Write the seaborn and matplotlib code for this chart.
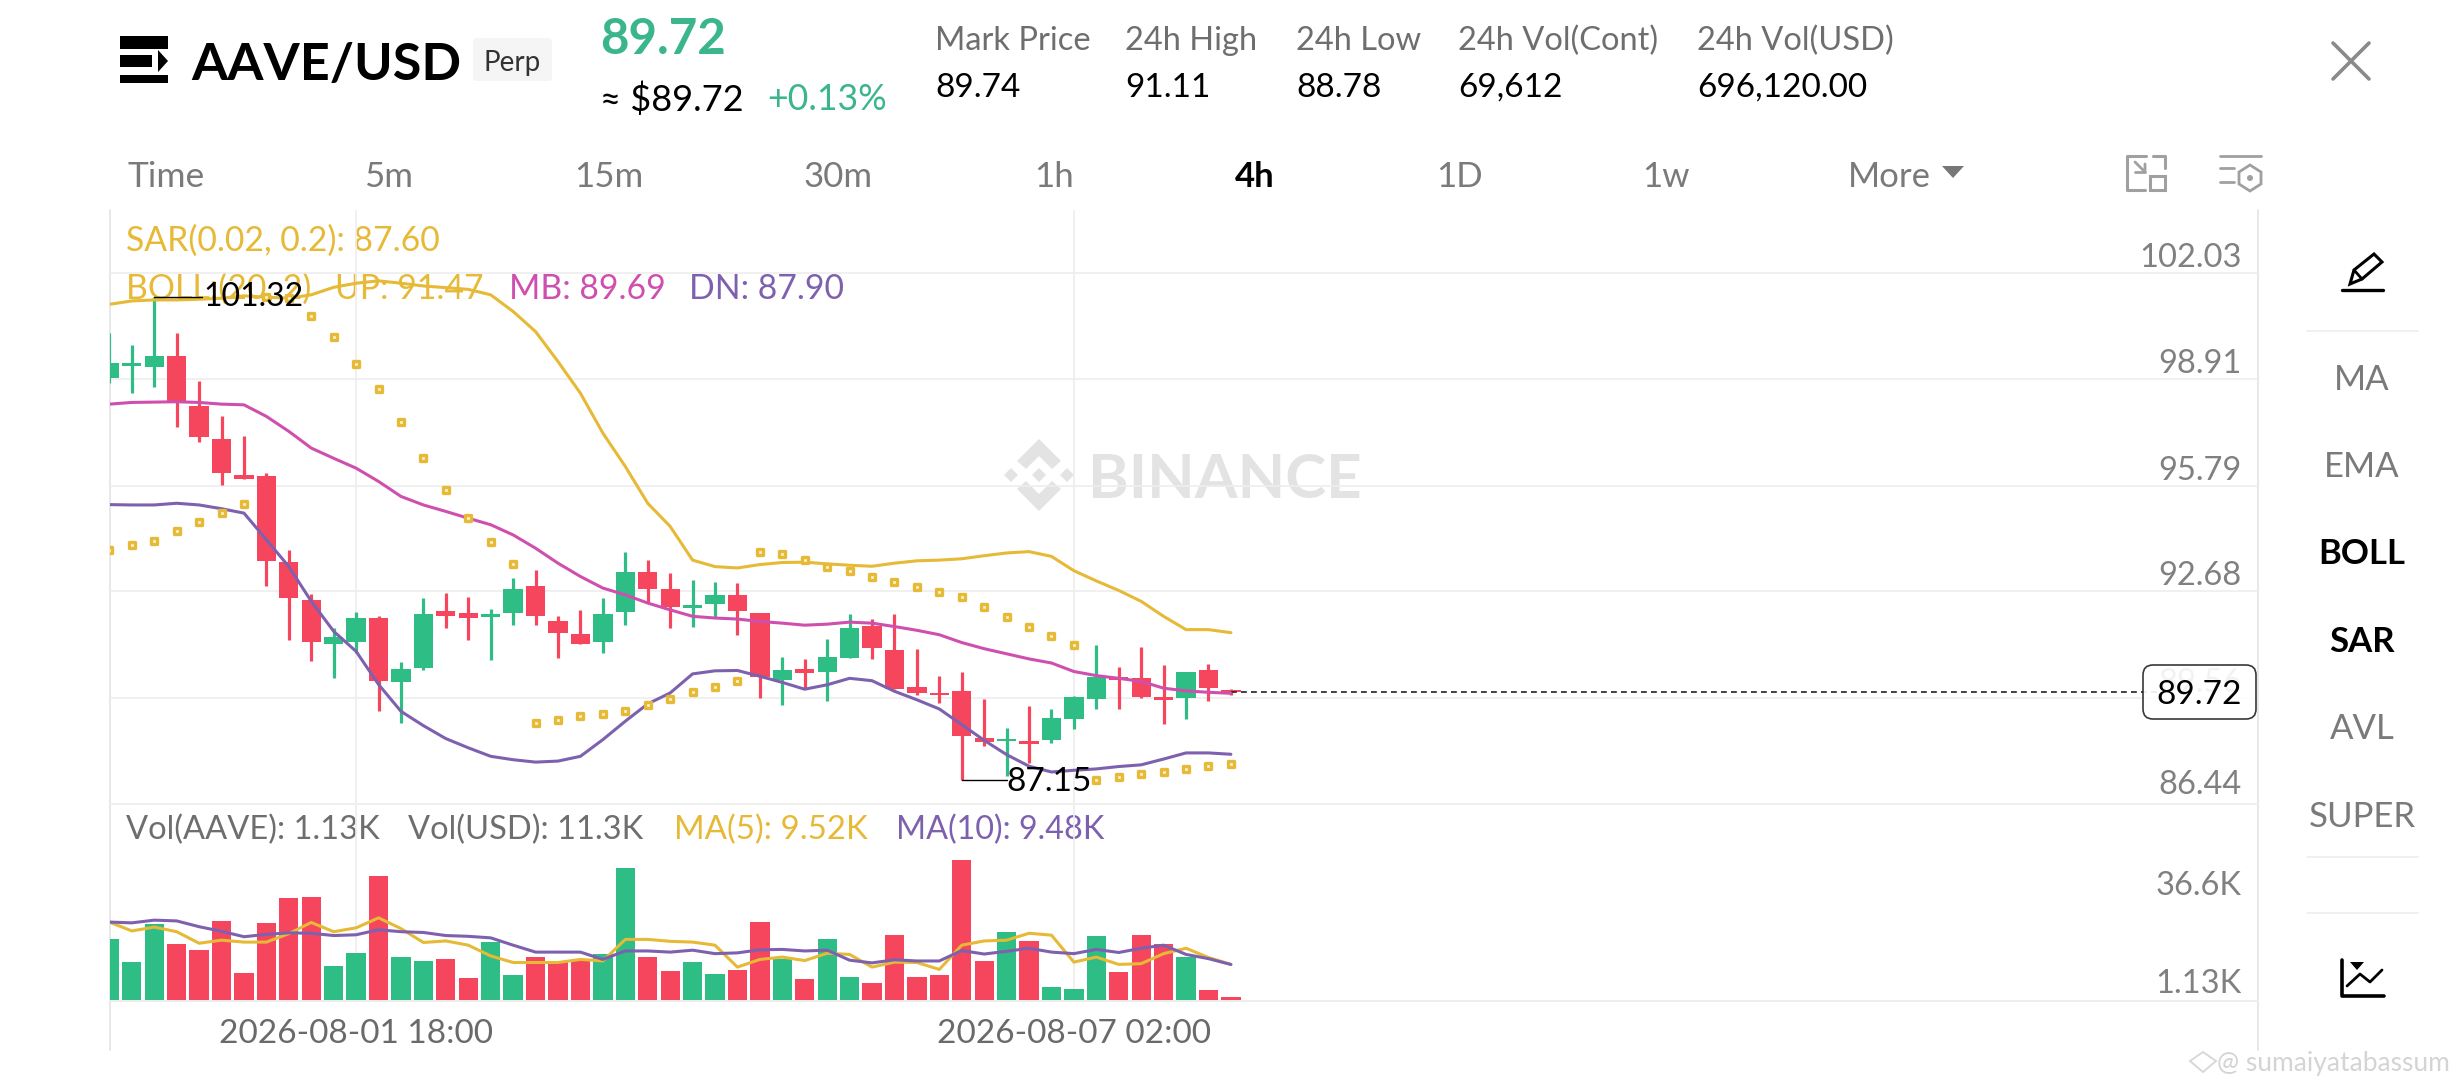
import numpy as np
import pandas as pd
import seaborn as sns
import matplotlib
matplotlib.use("Agg")
import matplotlib.pyplot as plt
from matplotlib.patches import FancyBboxPatch, Polygon, Rectangle, Circle
from matplotlib.transforms import ScaledTranslation

# ---------- data ----------
opens = [98.96,99.31,99.26,99.60,98.14,97.15,96.10,96.08,93.54,92.42,91.14,91.21,91.90,90.01,90.43,92.10,92.05,91.92,92.05,92.83,91.80,91.42,91.21,92.09,93.25,
         92.76,92.19,92.31,92.58,92.04,90.08,90.40,90.33,90.74,91.67,90.97,89.87,89.71,89.75,88.39,88.28,88.29,88.33,88.93,89.52,90.18,90.15,89.57,89.54,90.36,89.75]
closes = [99.38,99.38,99.60,98.23,97.21,96.15,95.98,93.56,92.49,91.21,91.33,91.90,90.04,90.39,92.03,91.97,91.90,92.02,92.75,91.95,91.46,91.15,92.02,93.25,92.76,
          92.21,92.28,92.59,92.12,90.17,90.38,90.30,90.75,91.61,91.01,89.81,89.69,89.63,88.45,88.26,88.36,88.20,88.96,89.59,90.18,90.09,89.58,89.48,90.31,89.85,89.72]
highs = [100.26,99.92,101.32,100.26,98.87,97.84,97.25,96.15,93.90,92.61,91.61,92.09,91.97,90.61,92.49,92.63,92.53,92.16,93.09,93.31,91.95,92.14,92.50,93.85,93.59,
         93.22,93.02,92.97,92.94,92.04,90.77,90.69,91.28,92.02,91.87,92.01,90.99,90.21,90.31,89.53,88.67,89.31,89.23,89.60,91.12,90.45,91.04,90.51,90.31,90.56,89.82]
lows = [98.81,98.52,98.67,97.52,97.08,95.81,95.98,92.83,91.25,90.63,90.14,90.87,89.16,88.82,90.37,91.60,91.25,90.66,91.71,91.71,90.74,91.15,90.87,91.70,92.34,
        91.62,91.63,91.93,91.41,89.54,89.35,89.84,89.45,90.72,90.70,89.81,89.63,89.40,87.15,88.13,87.25,87.64,88.23,88.64,89.24,89.23,89.55,88.79,88.93,89.47,89.65]
boll_up = [101.11,101.21,101.24,101.24,101.26,101.29,101.36,101.32,101.29,101.39,101.61,101.73,101.80,101.73,101.65,101.60,101.55,101.39,100.90,100.31,99.43,98.50,97.33,96.35,95.27,
           94.59,93.60,93.41,93.37,93.47,93.53,93.54,93.49,93.45,93.42,93.51,93.58,93.60,93.64,93.73,93.81,93.85,93.71,93.29,92.99,92.71,92.39,91.95,91.56,91.56,91.47]
boll_mb = [98.18,98.23,98.24,98.25,98.23,98.18,98.16,97.82,97.38,96.89,96.59,96.30,95.91,95.47,95.22,95.03,94.83,94.64,94.34,93.95,93.51,93.12,92.78,92.58,92.34,
           92.14,91.95,91.90,91.87,91.80,91.75,91.69,91.72,91.78,91.75,91.65,91.54,91.41,91.18,91.00,90.85,90.70,90.58,90.33,90.21,90.13,90.04,89.84,89.76,89.72,89.69]
boll_dn = [95.23,95.22,95.22,95.27,95.22,95.11,94.98,94.20,93.41,92.39,91.51,90.92,89.95,89.16,88.74,88.36,88.09,87.84,87.74,87.67,87.70,87.84,88.33,88.87,89.38,
           89.70,90.26,90.35,90.36,90.19,90.01,89.81,89.94,90.13,90.06,89.75,89.50,89.23,88.77,88.31,87.89,87.55,87.38,87.43,87.47,87.54,87.59,87.76,87.94,87.94,87.90]
sar = [93.90,94.03,94.17,94.45,94.73,94.99,95.24,101.32,101.29,100.77,100.15,99.35,98.61,97.67,96.60,95.67,94.85,94.13,93.49,88.82,88.92,89.01,89.09,89.17,89.35,
       89.53,89.72,89.87,90.04,93.85,93.78,93.60,93.41,93.27,93.10,92.95,92.81,92.67,92.53,92.22,91.92,91.63,91.36,91.12,87.15,87.24,87.32,87.39,87.47,87.55,87.60]
volumes = [16.2,10.1,19.9,14.9,13.2,20.8,7.3,20.3,26.7,27.0,9.1,12.4,32.5,11.5,10.5,11.0,5.9,15.4,6.8,11.5,10.1,10.6,12.1,34.6,11.3,
           7.9,10.1,7.1,8.0,20.5,10.8,5.8,16.0,6.3,4.8,17.1,6.3,6.8,36.6,10.5,18.0,15.5,3.55,3.2,16.9,7.6,17.2,14.7,11.5,2.8,1.13]
vol_ma5 = [20.5,18.2,19.2,18.0,15.0,15.8,15.3,15.3,17.5,20.4,18.0,19.0,21.6,18.8,15.2,15.6,14.5,11.7,10.0,10.0,10.0,10.8,10.4,16.0,16.0,
           15.5,15.3,14.5,8.8,10.8,11.4,10.5,12.4,12.1,8.8,10.1,10.0,8.2,14.5,15.6,15.8,17.6,17.1,10.1,11.4,9.5,9.7,12.3,13.7,11.3,9.52]
vol_ma10 = [20.5,20.3,21.0,20.8,19.3,18.1,16.7,17.3,17.7,17.6,17.0,17.2,18.5,18.0,17.8,17.0,16.8,16.4,14.5,12.7,12.7,12.7,10.8,13.0,13.0,
            12.7,13.2,12.3,12.5,13.3,13.4,13.0,13.2,10.6,9.9,10.7,10.4,10.4,13.1,12.2,12.9,13.7,12.7,12.3,13.4,12.6,13.7,14.5,12.1,11.0,9.48]
price_ticks = [102.03, 98.91, 95.79, 92.68, 89.56, 86.44]
date_ticks = [11, 43]
date_labels = ["2026-08-01 18:00", "2026-08-07 02:00"]
last_price = 89.72
high_mark, low_mark = 101.32, 87.15

GREEN, RED = "#2EBD85", "#F6465D"
GOLD, PINK, PURPLE = "#E6B936", "#CF4FAE", "#7E61AE"
GRID = "#EEEEEE"
GRAY = "#707070"
FONT = "Lato"

sns.set_theme(style="white")
plt.rcParams["font.family"] = [FONT, "DejaVu Sans"]

W, H = 2460, 1080
fig = plt.figure(figsize=(W / 100, H / 100), dpi=100, facecolor="white")

def rect(x0, y0, x1, y1):
    return [x0 / W, 1 - y1 / H, (x1 - x0) / W, (y1 - y0) / H]

# ---------- pixel overlays ----------
bg = fig.add_axes([0, 0, 1, 1], zorder=0)
bg.set_xlim(0, W); bg.set_ylim(H, 0); bg.axis("off")
top = fig.add_axes([0, 0, 1, 1], zorder=5)
top.set_xlim(0, W); top.set_ylim(H, 0); top.axis("off"); top.patch.set_alpha(0)

def T(x, y, s, size=22, color=GRAY, ha="left", weight="normal", ax=bg, **kw):
    ax.text(x, y, s, fontsize=size, color=color, ha=ha, va="center_baseline", fontweight=weight, **kw)

# ---------- price panel ----------
idx = np.arange(len(opens))
x0, x1 = (110 - 109.4) / 22.43, (2258 - 109.4) / 22.43
ax = fig.add_axes(rect(110, 210, 2258, 804), zorder=2)
ax.patch.set_alpha(0)
colors = [GREEN if c >= o else RED for o, c in zip(opens, closes)]
ax.vlines(idx, lows, highs, colors=colors, linewidth=2.3, zorder=2)
body_bottom = np.minimum(opens, closes)
body_height = np.maximum(np.abs(np.array(closes) - np.array(opens)), 0.06)
ax.bar(idx, body_height, bottom=body_bottom, width=0.86, color=colors, zorder=2, linewidth=0)
LW = 2.2
sns.lineplot(x=idx, y=boll_up, ax=ax, color=GOLD, linewidth=LW, zorder=3, legend=False)
sns.lineplot(x=idx, y=boll_mb, ax=ax, color=PINK, linewidth=LW, zorder=3, legend=False)
sns.lineplot(x=idx, y=boll_dn, ax=ax, color=PURPLE, linewidth=LW, zorder=3, legend=False)
sns.scatterplot(x=idx, y=sar, ax=ax, marker="s", s=16, facecolor="#FFF6D8", edgecolor=GOLD, linewidth=2.4, zorder=4, legend=False)
ax.plot([idx[-1], x1 * 0.9545], [last_price, last_price], color="#222222", lw=1.2, ls=(0, (3.5, 2.5)), zorder=2)
ax.plot([2, 4.15], [high_mark, high_mark], color="black", lw=1.0, zorder=5)
ax.text(4.2, high_mark, f"{high_mark:.2f}", fontsize=23, color="black", va="center", zorder=5)
ax.plot([38, 40.0], [low_mark, low_mark], color="black", lw=1.0, zorder=5)
ax.text(40.0, low_mark - 0.05, f"{low_mark:.2f}", fontsize=24, color="black", va="center", zorder=5)
ax.set_xlim(x0, x1)
ax.set_ylim(86.44, 103.88)
ax.set_xticks(date_ticks)
ax.set_xticklabels([])
ax.set_yticks(price_ticks)
ax.set_yticklabels([f"{p:.2f}" for p in price_ticks])
ax.yaxis.tick_right()
ax.tick_params(axis="y", length=0, pad=-12, labelsize=23.5, labelcolor="#808080")
ax.tick_params(axis="x", length=0)
ylabs = ax.get_yticklabels()
for lab in ylabs:
    lab.set_ha("right"); lab.set_va("bottom")
ylabs[-1].set_transform(ylabs[-1].get_transform() + ScaledTranslation(0, 3 / 72, fig.dpi_scale_trans))
ax.set_ylabel(""); ax.set_xlabel("")
ax.grid(True, color=GRID, linewidth=1.2, zorder=0)
ax.set_axisbelow(True)
for s in ax.spines.values():
    s.set_visible(False)

# ---------- volume panel ----------
axv = fig.add_axes(rect(110, 804, 2258, 1001), zorder=2)
axv.patch.set_alpha(0)
vdf = pd.DataFrame({"i": idx, "v": volumes, "up": ["u" if c == GREEN else "d" for c in colors]})
sns.barplot(data=vdf, x="i", y="v", hue="up", palette={"u": GREEN, "d": RED}, native_scale=True,
            dodge=False, width=0.86, saturation=1, legend=False, ax=axv, linewidth=0, zorder=2)
sns.lineplot(x=idx, y=vol_ma5, ax=axv, color=GOLD, linewidth=LW, zorder=3, legend=False)
sns.lineplot(x=idx, y=vol_ma10, ax=axv, color=PURPLE, linewidth=LW, zorder=3, legend=False)
axv.set_xlim(x0, x1)
axv.set_ylim(0, 197 / 3.85)
axv.set_yticks([])
axv.set_xticks(date_ticks)
axv.set_xticklabels(date_labels, fontsize=24, color="#6A6A6A")
axv.tick_params(axis="x", length=0, pad=13)
axv.set_xlabel(""); axv.set_ylabel("")
axv.grid(True, axis="x", color=GRID, linewidth=1.2, zorder=0)
axv.set_axisbelow(True)
for s in axv.spines.values():
    s.set_visible(False)
axv.spines["bottom"].set_visible(True)
axv.spines["bottom"].set_color(GRID)
axv.spines["bottom"].set_linewidth(1.4)
axv.spines["top"].set_visible(True)
axv.spines["top"].set_color(GRID)
axv.spines["top"].set_linewidth(1.2)

# ---------- frame ----------
bg.plot([110, 110], [210, 1050], color="#E8E8E8", lw=1.4)
bg.plot([2258, 2258], [210, 1050], color="#E8E8E8", lw=1.4)

# indicator legends
LS = 24.3
T(126, 238, "SAR(0.02, 0.2): 87.60", LS, GOLD)
T(126, 286, "BOLL:(20, 2)", LS, GOLD)
T(335, 286, "UP: 91.47", LS, GOLD)
T(509, 286, "MB: 89.69", LS, PINK)
T(689, 286, "DN: 87.90", LS, PURPLE)
T(126, 827, "Vol(AAVE): 1.13K", 23.5, "#6E6E6E")
T(408, 827, "Vol(USD): 11.3K", 23.5, "#6E6E6E")
T(674, 827, "MA(5): 9.52K", 23.8, GOLD)
T(896, 827, "MA(10): 9.48K", 23.3, PURPLE)
T(2242, 883, "36.6K", 23.5, "#808080", ha="right")
T(2242, 981, "1.13K", 23.5, "#808080", ha="right")

# watermark
T(1088, 475, "BINANCE", 44.5, "#E3E3E3", weight="bold")
cx, cy = 1039, 475
wm = "#E3E3E3"
for dx, dy in [(0, 0), (-28, 0), (28, 0)]:
    bg.add_patch(Polygon([(cx + dx - 7, cy + dy), (cx + dx, cy + dy - 7), (cx + dx + 7, cy + dy), (cx + dx, cy + dy + 7)], color=wm, lw=0))
bg.add_patch(Polygon([(cx, cy - 36), (cx + 22, cy - 14), (cx + 13, cy - 6), (cx, cy - 19), (cx - 13, cy - 6), (cx - 22, cy - 14)], color=wm, lw=0))
bg.add_patch(Polygon([(cx, cy + 36), (cx + 22, cy + 14), (cx + 13, cy + 6), (cx, cy + 19), (cx - 13, cy + 6), (cx - 22, cy + 14)], color=wm, lw=0))

# price box (on top)
top.add_patch(FancyBboxPatch((2143, 665), 113, 54, boxstyle="round,pad=0,rounding_size=10",
                             facecolor="white", edgecolor="#222222", lw=1.2, alpha=0.9))
T(2199, 692, "89.72", 24, "black", ha="center", ax=top)

# ---------- header ----------
for y0, y1 in [(36, 49), (75, 83)]:
    bg.add_patch(Rectangle((120, y0), 48, y1 - y0, color="black", lw=0))
bg.add_patch(Rectangle((120, 55), 32, 12, color="black", lw=0))
bg.add_patch(Polygon([(158, 50), (168, 61), (158, 72)], color="black", lw=0))
T(191, 61, "AAVE/USD", 37.5, "black", weight="bold")
bg.add_patch(FancyBboxPatch((473, 38), 79, 43, boxstyle="round,pad=0,rounding_size=4", facecolor="#F5F5F5", edgecolor="none"))
T(512.5, 60, "Perp", 20, "#333333", ha="center")
T(600, 36, "89.72", 35.5, "#3BB58B", weight="bold")
T(600, 97, "≈ $89.72", 26, "black")
T(767, 97, "+0.13%", 25.7, "#3BB58B")
for x, lab, val in [(935, "Mark Price", "89.74"), (1125, "24h High", "91.11"), (1296, "24h Low", "88.78"),
                    (1458, "24h Vol(Cont)", "69,612"), (1697, "24h Vol(USD)", "696,120.00")]:
    T(x, 38, lab, 23.5, "#6E6E6E")
    T(x, 85, val, 24, "black")
for x, s, c, w in [(389, "5m", "#7A7A7A", "normal"), (609, "15m", "#7A7A7A", "normal"), (838, "30m", "#7A7A7A", "normal"),
                   (1054, "1h", "#7A7A7A", "normal"), (1255, "4h", "black", "bold"), (1459, "1D", "#7A7A7A", "normal"),
                   (1666, "1w", "#7A7A7A", "normal"), (1889, "More", "#7A7A7A", "normal")]:
    T(x, 174, s, 25, c, ha="center", weight=w)
T(127, 174, "Time", 25.5, "#7A7A7A")
bg.add_patch(Polygon([(1942, 166), (1964, 166), (1953, 178)], color="#777777", lw=0))
# close cross
bg.plot([2333, 2369], [43, 79], color="#8A8A8A", lw=2.6)
bg.plot([2333, 2369], [79, 43], color="#8A8A8A", lw=2.6)
# top-right toolbar icons
bg.plot([2146, 2127, 2127, 2145], [156, 156, 190, 190], color="#A0A0A0", lw=2.2)
bg.plot([2153, 2165, 2165], [156, 156, 168], color="#A0A0A0", lw=2.2)
bg.add_patch(Rectangle((2150, 176), 15, 14, facecolor="white", edgecolor="#A0A0A0", lw=2.2))
bg.plot([2135, 2145, 2145], [162, 172, 164], color="#A0A0A0", lw=2.0)
bg.plot([2135, 2145], [172, 172], color="#A0A0A0", lw=2.0)
bg.plot([2220, 2261], [156, 156], color="#A0A0A0", lw=2.0)
bg.plot([2220, 2234], [168, 168], color="#A0A0A0", lw=2.0)
bg.plot([2220, 2234], [182, 182], color="#A0A0A0", lw=2.0)
bg.add_patch(Polygon([(2250, 165), (2261, 172), (2261, 184), (2250, 191), (2239, 184), (2239, 172)], fill=False, edgecolor="#A0A0A0", lw=2.0))
bg.add_patch(Circle((2250, 178), 3, color="#A0A0A0", lw=0))

# right menu
for y, s, c, w in [(377, "MA", "#7A7A7A", "normal"), (464, "EMA", "#7A7A7A", "normal"), (551, "BOLL", "black", "bold"),
                   (639, "SAR", "black", "bold"), (726, "AVL", "#7A7A7A", "normal"), (814, "SUPER", "#7A7A7A", "normal")]:
    T(2362, y, s, 25, c, ha="center", weight=w)
for y in (331, 857, 913):
    bg.plot([2307, 2418], [y, y], color="#EDEDED", lw=1.2)
# pencil
bg.plot([2342, 2383], [290, 290], color="black", lw=2.4)
bg.add_patch(Polygon([(2350, 284), (2354, 270), (2374, 254), (2382, 262), (2362, 279)], fill=False, edgecolor="black", lw=2.2))
bg.plot([2354, 2362], [270, 279], color="black", lw=2.0)
# chart icon
bg.plot([2342, 2342, 2384], [960, 996, 996], color="black", lw=2.6)
bg.plot([2347, 2360, 2370, 2382], [986, 974, 982, 970], color="black", lw=2.0)
bg.add_patch(Polygon([(2350, 962), (2364, 962), (2357, 970)], color="black", lw=0))

# corner credit
T(2217, 1061, "@ sumaiyatabassum", 19, "#D4D4D4")
bg.add_patch(Polygon([(2190, 1061), (2203, 1052), (2216, 1061), (2203, 1072)], fill=False, edgecolor="#D8D8D8", lw=1.4))

fig.savefig("out.png", dpi=100, facecolor="white")
